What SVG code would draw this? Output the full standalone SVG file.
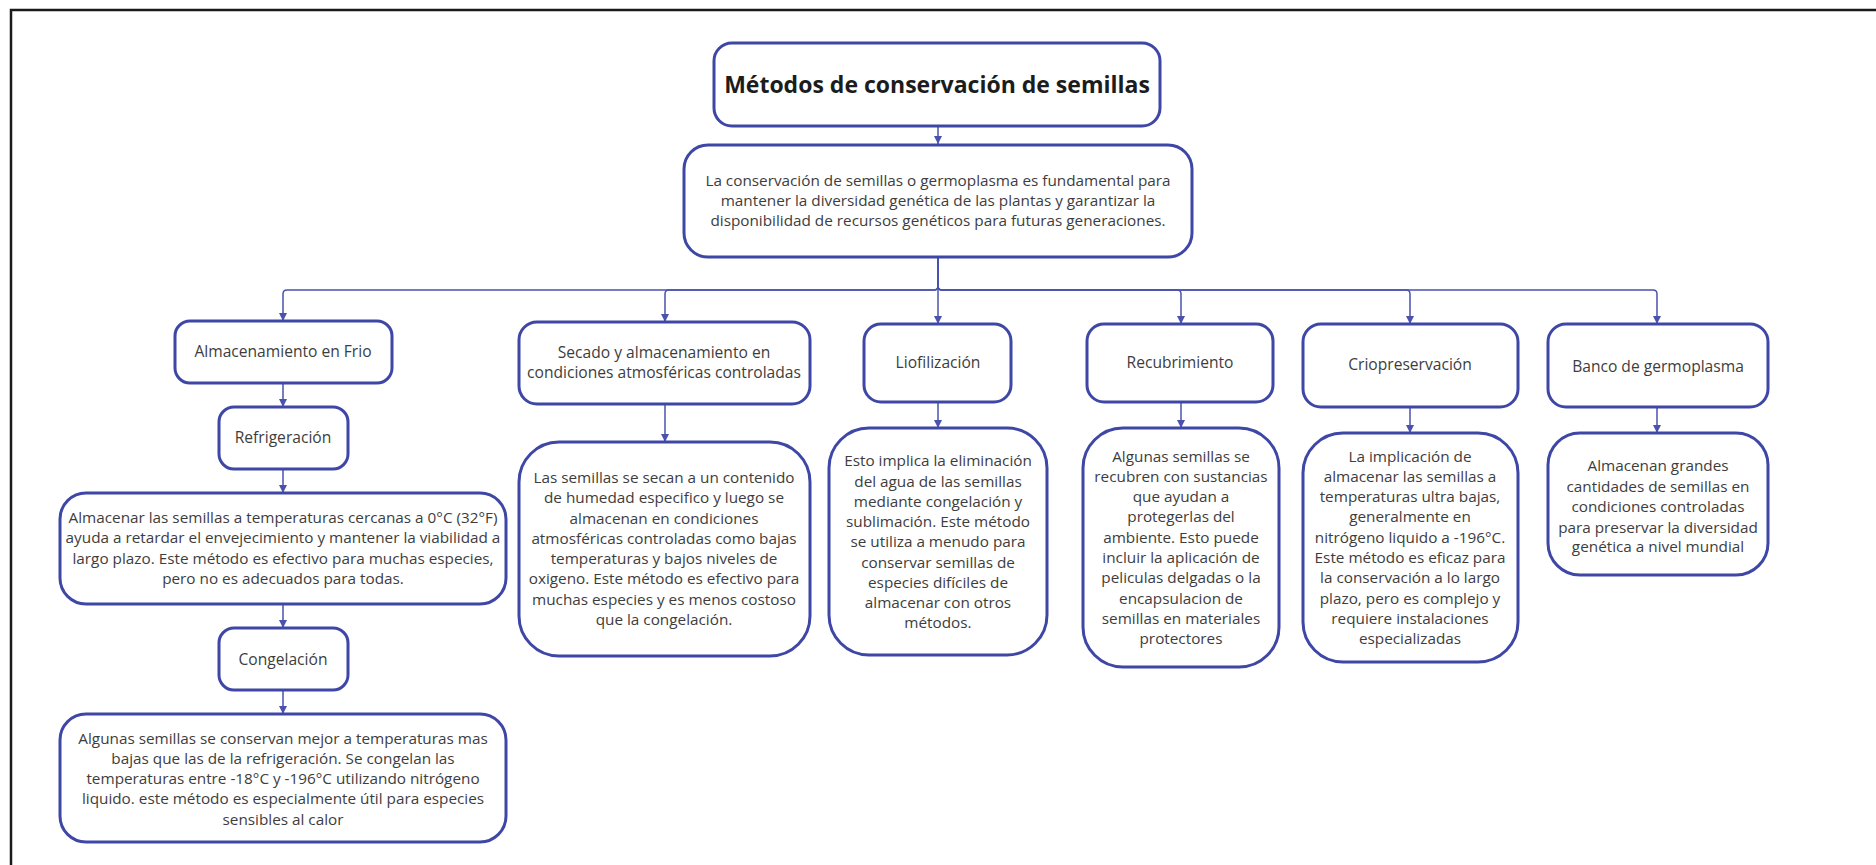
<svg xmlns="http://www.w3.org/2000/svg" width="1876" height="865" viewBox="0 0 1876 865">
<style>
.box{fill:#ffffff;stroke:#3f47a6;stroke-width:3}
.t{font-family:"Open Sans","Liberation Sans",sans-serif;font-size:15.3px;fill:#3d3d3d;text-anchor:middle}
.l{font-size:15.6px}
.title{font-family:"Open Sans","Liberation Sans",sans-serif;font-size:23px;font-weight:bold;fill:#1c1c1c;text-anchor:middle}
.c{fill:none;stroke:#4a52ae;stroke-width:1.5}
</style>
<defs>
<marker id="a" markerWidth="10" markerHeight="10" refX="9" refY="5" orient="auto" markerUnits="userSpaceOnUse" viewBox="0 0 10 10">
<path d="M1,1 L9,5 L1,9 Z" fill="#4a52ae"/>
</marker>
</defs>
<rect width="1876" height="865" fill="#ffffff"/>
<path d="M11,865 V10 H1876" fill="none" stroke="#1a1a1a" stroke-width="2.5"/>

<g id="connectors">
<path class="c" d="M938,126 V144" marker-end="url(#a)"/>
<path class="c" d="M938,257 V286 Q938,290 934,290 H287 Q283,290 283,294 V321" marker-end="url(#a)"/>
<path class="c" d="M938,257 V286 Q938,290 934,290 H669 Q665,290 665,294 V322" marker-end="url(#a)"/>
<path class="c" d="M938,257 V324" marker-end="url(#a)"/>
<path class="c" d="M938,257 V286 Q938,290 942,290 H1177 Q1181,290 1181,294 V324" marker-end="url(#a)"/>
<path class="c" d="M938,257 V286 Q938,290 942,290 H1406 Q1410,290 1410,294 V324" marker-end="url(#a)"/>
<path class="c" d="M938,257 V286 Q938,290 942,290 H1653 Q1657,290 1657,294 V324" marker-end="url(#a)"/>
<path class="c" d="M283,383 V407" marker-end="url(#a)"/>
<path class="c" d="M283,469 V493" marker-end="url(#a)"/>
<path class="c" d="M283,604 V628" marker-end="url(#a)"/>
<path class="c" d="M283,690 V714" marker-end="url(#a)"/>
<path class="c" d="M665,404 V442" marker-end="url(#a)"/>
<path class="c" d="M938,402 V428" marker-end="url(#a)"/>
<path class="c" d="M1181,402 V428" marker-end="url(#a)"/>
<path class="c" d="M1410,407 V433" marker-end="url(#a)"/>
<path class="c" d="M1657,407 V433" marker-end="url(#a)"/>
</g>

<g id="title">
<rect class="box" x="714" y="43" width="446" height="83" rx="18"/>
<text class="title" x="937" y="93">Métodos de conservación de semillas</text>
</g>

<g id="intro">
<rect class="box" x="684" y="145" width="508" height="112" rx="24"/>
<text class="t"><tspan x="938" y="186">La conservación de semillas o germoplasma es fundamental para</tspan><tspan x="938" y="206">mantener la diversidad genética de las plantas y garantizar la</tspan><tspan x="938" y="226">disponibilidad de recursos genéticos para futuras generaciones.</tspan></text>
</g>

<g id="frio">
<rect class="box" x="175" y="321" width="217" height="62" rx="15"/>
<text class="t l" x="283" y="357">Almacenamiento en Frio</text>
</g>

<g id="refrigeracion">
<rect class="box" x="219" y="407" width="129" height="62" rx="15"/>
<text class="t l" x="283" y="443">Refrigeración</text>
</g>

<g id="refrigeracion-desc">
<rect class="box" x="60" y="493" width="446" height="111" rx="26"/>
<text class="t"><tspan x="283" y="523">Almacenar las semillas a temperaturas cercanas a 0°C (32°F)</tspan><tspan x="283" y="543">ayuda a retardar el envejecimiento y mantener la viabilidad a</tspan><tspan x="283" y="564">largo plazo. Este método es efectivo para muchas especies,</tspan><tspan x="283" y="584">pero no es adecuados para todas.</tspan></text>
</g>

<g id="congelacion">
<rect class="box" x="219" y="628" width="129" height="62" rx="15"/>
<text class="t l" x="283" y="665">Congelación</text>
</g>

<g id="congelacion-desc">
<rect class="box" x="60" y="714" width="446" height="128" rx="26"/>
<text class="t"><tspan x="283" y="744">Algunas semillas se conservan mejor a temperaturas mas</tspan><tspan x="283" y="764">bajas que las de la refrigeración. Se congelan las</tspan><tspan x="283" y="784">temperaturas entre -18°C y -196°C utilizando nitrógeno</tspan><tspan x="283" y="804">liquido. este método es especialmente útil para especies</tspan><tspan x="283" y="825">sensibles al calor</tspan></text>
</g>

<g id="secado">
<rect class="box" x="519" y="322" width="291" height="82" rx="18"/>
<text class="t l"><tspan x="664" y="358">Secado y almacenamiento en</tspan><tspan x="664" y="378">condiciones atmosféricas controladas</tspan></text>
</g>

<g id="secado-desc">
<rect class="box" x="519" y="442" width="291" height="214" rx="40"/>
<text class="t"><tspan x="664" y="483">Las semillas se secan a un contenido</tspan><tspan x="664" y="503">de humedad especifico y luego se</tspan><tspan x="664" y="524">almacenan en condiciones</tspan><tspan x="664" y="544">atmosféricas controladas como bajas</tspan><tspan x="664" y="564">temperaturas y bajos niveles de</tspan><tspan x="664" y="584">oxigeno. Este método es efectivo para</tspan><tspan x="664" y="605">muchas especies y es menos costoso</tspan><tspan x="664" y="625">que la congelación.</tspan></text>
</g>

<g id="liofilizacion">
<rect class="box" x="864" y="324" width="147" height="78" rx="17"/>
<text class="t l" x="938" y="368">Liofilización</text>
</g>

<g id="liofilizacion-desc">
<rect class="box" x="829" y="428" width="218" height="227" rx="40"/>
<text class="t"><tspan x="938" y="466">Esto implica la eliminación</tspan><tspan x="938" y="487">del agua de las semillas</tspan><tspan x="938" y="507">mediante congelación y</tspan><tspan x="938" y="527">sublimación. Este método</tspan><tspan x="938" y="547">se utiliza a menudo para</tspan><tspan x="938" y="568">conservar semillas de</tspan><tspan x="938" y="588">especies difíciles de</tspan><tspan x="938" y="608">almacenar con otros</tspan><tspan x="938" y="628">métodos.</tspan></text>
</g>

<g id="recubrimiento">
<rect class="box" x="1087" y="324" width="186" height="78" rx="17"/>
<text class="t l" x="1180" y="368">Recubrimiento</text>
</g>

<g id="recubrimiento-desc">
<rect class="box" x="1083" y="428" width="196" height="239" rx="40"/>
<text class="t"><tspan x="1181" y="462">Algunas semillas se</tspan><tspan x="1181" y="482">recubren con sustancias</tspan><tspan x="1181" y="502">que ayudan a</tspan><tspan x="1181" y="522">protegerlas del</tspan><tspan x="1181" y="543">ambiente. Esto puede</tspan><tspan x="1181" y="563">incluir la aplicación de</tspan><tspan x="1181" y="583">peliculas delgadas o la</tspan><tspan x="1181" y="604">encapsulacion de</tspan><tspan x="1181" y="624">semillas en materiales</tspan><tspan x="1181" y="644">protectores</tspan></text>
</g>

<g id="criopreservacion">
<rect class="box" x="1303" y="324" width="215" height="83" rx="18"/>
<text class="t l" x="1410" y="370">Criopreservación</text>
</g>

<g id="criopreservacion-desc">
<rect class="box" x="1303" y="433" width="215" height="229" rx="40"/>
<text class="t"><tspan x="1410" y="462">La implicación de</tspan><tspan x="1410" y="482">almacenar las semillas a</tspan><tspan x="1410" y="502">temperaturas ultra bajas,</tspan><tspan x="1410" y="522">generalmente en</tspan><tspan x="1410" y="543">nitrógeno liquido a -196°C.</tspan><tspan x="1410" y="563">Este método es eficaz para</tspan><tspan x="1410" y="583">la conservación a lo largo</tspan><tspan x="1410" y="604">plazo, pero es complejo y</tspan><tspan x="1410" y="624">requiere instalaciones</tspan><tspan x="1410" y="644">especializadas</tspan></text>
</g>

<g id="banco">
<rect class="box" x="1548" y="324" width="220" height="83" rx="18"/>
<text class="t l" x="1658" y="372">Banco de germoplasma</text>
</g>

<g id="banco-desc">
<rect class="box" x="1548" y="433" width="220" height="142" rx="32"/>
<text class="t"><tspan x="1658" y="471">Almacenan grandes</tspan><tspan x="1658" y="492">cantidades de semillas en</tspan><tspan x="1658" y="512">condiciones controladas</tspan><tspan x="1658" y="533">para preservar la diversidad</tspan><tspan x="1658" y="552">genética a nivel mundial</tspan></text>
</g>
</svg>
